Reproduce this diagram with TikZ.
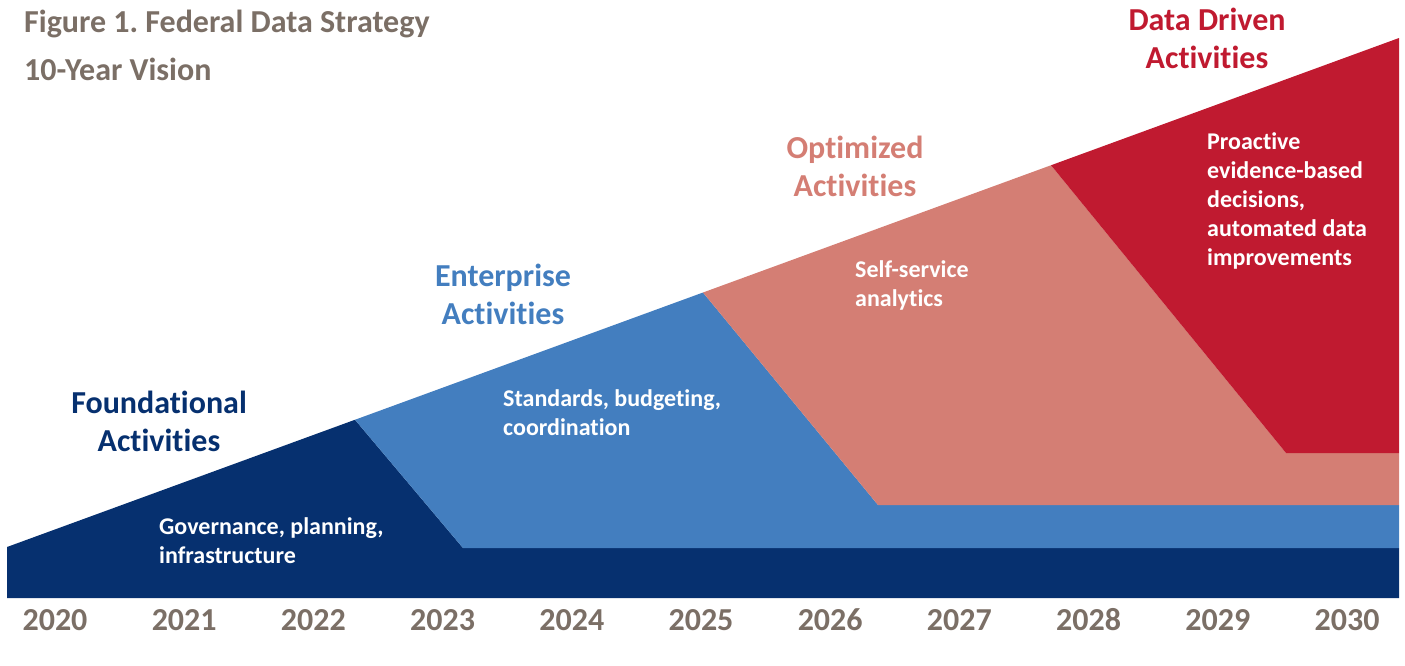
\documentclass[tikz,border=0pt]{standalone}
\usepackage{fontspec}
\setmainfont{Carlito}[Ligatures=NoCommon]
\usetikzlibrary{calc}
\frenchspacing

\definecolor{navyband}{HTML}{06306F}
\definecolor{blueband}{HTML}{437EBF}
\definecolor{salmonband}{HTML}{D47E74}
\definecolor{redband}{HTML}{C01A30}
\definecolor{greytext}{HTML}{7B6F66}

\tikzset{
  headlab/.style={inner sep=0pt, anchor=base, align=center, font=\fontsize{32}{38}\selectfont\bfseries},
  bodylab/.style={inner sep=0pt, anchor=base west, align=left, text=white, font=\fontsize{24}{29}\selectfont\bfseries},
  yearlab/.style={inner sep=0pt, anchor=base, text=greytext, font=\fontsize{32}{32}\selectfont\bfseries}
}

\begin{document}
\begin{tikzpicture}[x=1pt,y=-1pt]
    \useasboundingbox (0,0) rectangle (1405,665);

    % the rising edge
    \coordinate (low) at (7,547);
    \coordinate (high) at (1399,38);
    \coordinate (peakA) at ($(low)!0.25!(high)$);
    \coordinate (peakB) at ($(low)!0.5!(high)$);
    \coordinate (peakC) at ($(low)!0.75!(high)$);

    \fill[navyband] (low) -- (peakA) -- (463,548) -- (1399,548) -- (1399,598) -- (7,598) -- cycle;
    \fill[blueband] (peakA) -- (peakB) -- (878,505) -- (1399,505) -- (1399,548) -- (463,548) -- cycle;
    \fill[salmonband] (peakB) -- (peakC) -- (1286,453) -- (1399,453) -- (1399,505) -- (878,505) -- cycle;
    \fill[redband] (peakC) -- (high) -- (1399,453) -- (1286,453) -- cycle;

    % title (base = last line)
    \node[inner sep=0pt, anchor=base west, align=left, text=greytext,
          font=\fontsize{32}{48}\selectfont\bfseries] (title) at (24,80)
          {Figure 1. Federal Data Strategy\\10-Year Vision};

    % stage headings
    \node[headlab, text=navyband] (found) at (159,451) {Foundational\\Activities};
    \node[headlab, text=blueband] (enter) at (503,324) {Enterprise\\Activities};
    \node[headlab, text=salmonband] (optim) at (855,196) {Optimized\\Activities};
    \node[headlab, text=redband] (driven) at (1207,68) {Data Driven\\Activities};

    % stage contents
    \node[bodylab] (gov) at (159,563) {Governance, planning,\\infrastructure};
    \node[bodylab] (std) at (503,435) {Standards, budgeting,\\coordination};
    \node[bodylab] (self) at (855,306) {Self-service\\analytics};
    \node[bodylab] (proact) at (1207,265) {Proactive\\evidence-based\\decisions,\\automated data\\improvements};

    % years
    \foreach \yr [count=\i from 0] in {2020,...,2030}
        \node[yearlab] (yr\yr) at (55+129.2*\i,630) {\yr};
\end{tikzpicture}
\end{document}
